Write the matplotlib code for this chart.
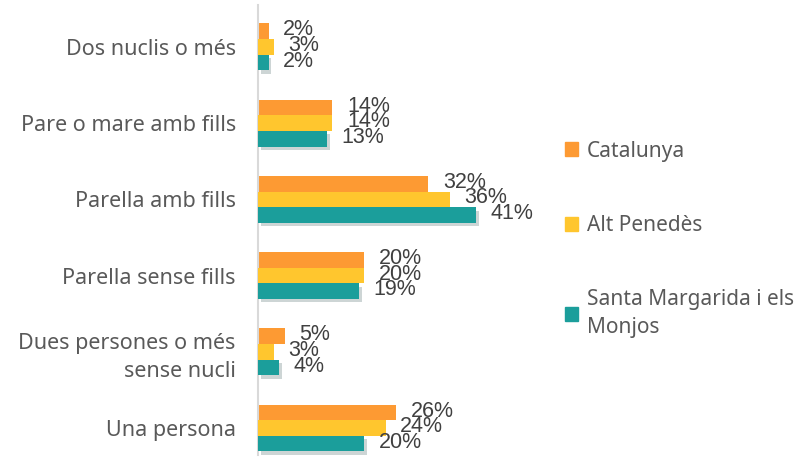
import matplotlib
matplotlib.use("Agg")
import matplotlib.pyplot as plt
import matplotlib.patheffects as pe
from matplotlib.patches import Patch
import numpy as np

categories = ["Dos nuclis o més", "Pare o mare amb fills", "Parella amb fills",
              "Parella sense fills", "Dues persones o més\nsense nucli", "Una persona"]
series = ["Catalunya", "Alt Penedès", "Santa Margarida i els\nMonjos"]
catalunya = [2, 14, 32, 20, 5, 26]
alt_penedes = [3, 14, 36, 20, 3, 24]
santa_margarida = [2, 13, 41, 19, 4, 20]
values = [catalunya, alt_penedes, santa_margarida]
colors = ["#FD9A33", "#FFC62E", "#1B9E9B"]

fig = plt.figure(figsize=(8.01, 4.59), dpi=100)
ax = fig.add_axes([258 / 801, 4 / 459, 282 / 801, 450 / 459])

y = np.arange(len(categories))
h = 0.205
shadow = [pe.SimplePatchShadow(offset=(2, -2.5), alpha=0.2), pe.Normal()]
for i, (vals, col) in enumerate(zip(values, colors)):
    pos = y + (i - 1) * h
    bars = ax.barh(pos, vals, height=h, color=col, zorder=2 + i)
    if i == 2:
        for b in bars:
            b.set_path_effects(shadow)
    for p, v in zip(pos, vals):
        ax.annotate(f"{v}%", (v, p), xytext=(10.5, 1), textcoords="offset points",
                    va="center", ha="left", fontsize=15.5, color="#404040",
                    family="Liberation Sans", zorder=10)

ax.set_xlim(0, 53)
ax.set_ylim(5.354, -0.55)
ax.set_yticks(y)
ax.set_yticklabels(categories, fontsize=15.5, color="#595959", family="Noto Sans",
                   linespacing=1.45)
ax.tick_params(axis="y", length=0, pad=16)
ax.set_xticks([])
for s in ["top", "right", "bottom"]:
    ax.spines[s].set_visible(False)
ax.spines["left"].set_color("#D9D9D9")
ax.spines["left"].set_linewidth(1.5)

handles = [Patch(color=c) for c in colors]
leg = fig.legend(handles, series, loc="upper left", bbox_to_anchor=(546 / 801, 1 - 122 / 459),
                 frameon=False, labelspacing=2.55, handlelength=0.65,
                 handleheight=0.65, handletextpad=0.4, labelcolor="#595959",
                 prop={"family": "Noto Sans", "size": 15})
for t in leg.get_texts():
    t.set_linespacing(1.45)

fig.savefig("out.png", dpi=100)
